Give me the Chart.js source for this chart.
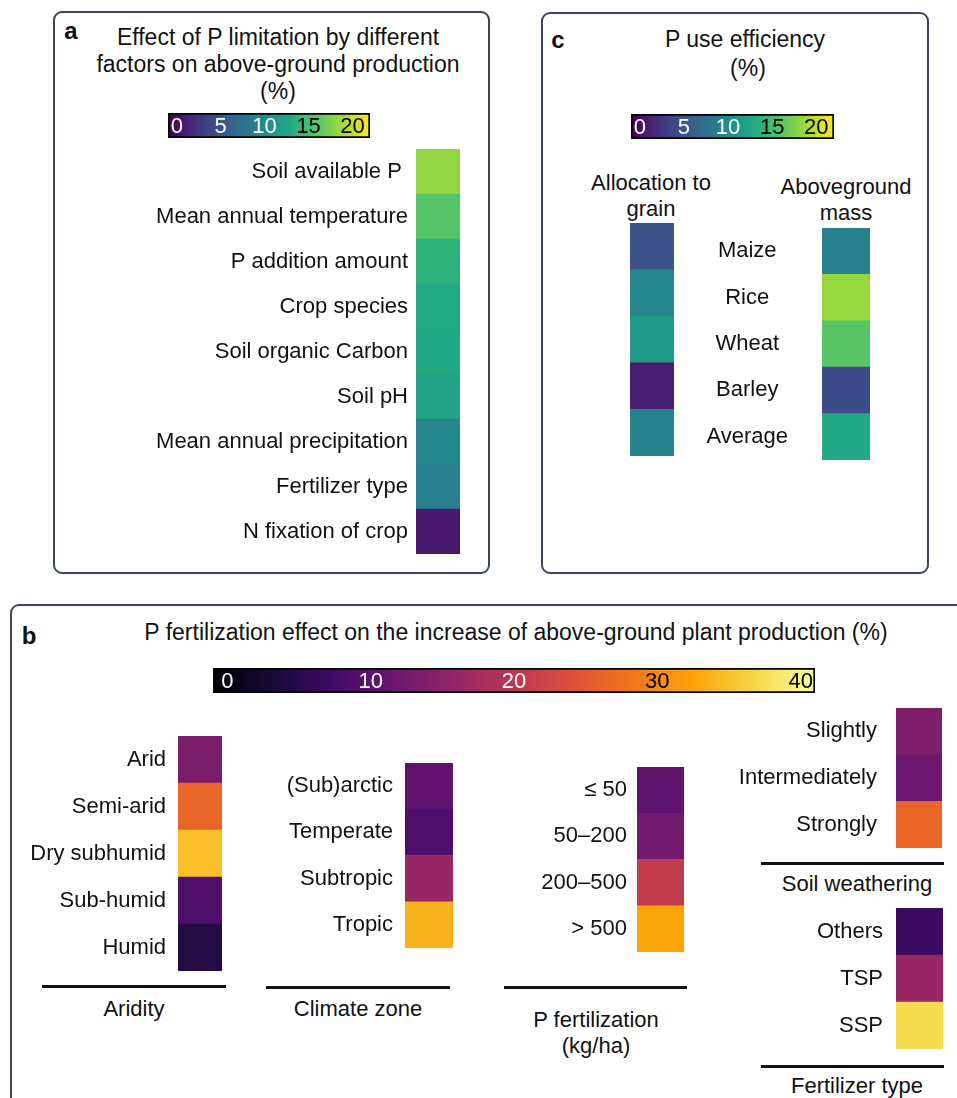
<!DOCTYPE html>
<html>
<head>
<meta charset="utf-8">
<script src="https://cdn.jsdelivr.net/npm/chart.js@4/dist/chart.umd.min.js"></script>
<style>
  html, body { margin: 0; padding: 0; background: #fff; }
  body { width: 957px; height: 1098px; position: relative; overflow: hidden;
         font-family: 'Liberation Sans', Arial, sans-serif; color: #111; }
  .panel { position: absolute; border: 2px solid #3b4759; border-radius: 9px; box-sizing: border-box; }
  .t { position: absolute; white-space: nowrap; transform: translate(-50%, -50%); line-height: 1; }
  .line { position: absolute; height: 3px; background: #111; }
  canvas { position: absolute; }
</style>
</head>
<body>
<div class="panel" style="left:53px;top:11px;width:437px;height:563px;"></div>
<div class="panel" style="left:541px;top:12px;width:388px;height:562px;"></div>
<div class="panel" style="left:10px;top:604px;width:980px;height:540px;"></div>

<canvas id="cbA"></canvas>
<canvas id="cbC"></canvas>
<canvas id="cbB"></canvas>
<canvas id="heatA"></canvas>
<canvas id="heatGrain"></canvas>
<canvas id="heatAbove"></canvas>
<canvas id="heatArid"></canvas>
<canvas id="heatClim"></canvas>
<canvas id="heatPfert"></canvas>
<canvas id="heatWeather"></canvas>
<canvas id="heatFtype"></canvas>

<script>
// ---------------- DATA ----------------
const aLabels = ['Soil available P ', 'Mean annual temperature', 'P addition amount', 'Crop species',
  'Soil organic Carbon', 'Soil pH', 'Mean annual precipitation', 'Fertilizer type', 'N fixation of crop'];
const aValues = [18.2, 15.8, 13.6, 13.0, 12.9, 12.3, 9.7, 8.8, 0.5];

const cCrops = ['Maize', 'Rice', 'Wheat', 'Barley', 'Average'];
const cGrain = [4.8, 9.4, 11.4, 0.85, 9.1];
const cAbove = [8.8, 18.4, 15.9, 4.2, 12.9];

const aridityLabels = ['Arid', 'Semi-arid', 'Dry subhumid', 'Sub-humid', 'Humid'];
const aridityValues = [13.2, 26.3, 34.7, 8.8, 4.3];
const climateLabels = ['(Sub)arctic', 'Temperate', 'Subtropic', 'Tropic'];
const climateValues = [10.4, 8.8, 16.2, 33.7];
const pfertLabels = ['\u2264 50', '50\u2013200', '200\u2013500', '> 500'];
const pfertValues = [10.3, 12.2, 20.8, 32.6];
const weatherLabels = ['Slightly', 'Intermediately', 'Strongly'];
const weatherValues = [13.6, 11.9, 26.5];
const ftypeLabels = ['Others', 'TSP', 'SSP'];
const ftypeValues = [6.6, 16.3, 37.2];

const viridisTicks = [0, 5, 10, 15, 20];
const infernoTicks = [0, 10, 20, 30, 40];
const viridisDomain = [-1, 22];
const infernoDomain = [-1, 41];

// ---------------- COLOUR MAPS ----------------
const VIRIDIS = ['#440154','#482475','#414487','#355f8d','#2a788e','#21918c','#22a884','#44bf70','#7ad151','#bddf26','#fde725'];
const INFERNO = ['#000004','#160b39','#420a68','#6a176e','#932667','#bc3754','#dd513a','#f37819','#fca50a','#f6d746','#fcffa4'];
function hex2rgb(h) { return [parseInt(h.slice(1,3),16), parseInt(h.slice(3,5),16), parseInt(h.slice(5,7),16)]; }
function cmapAt(anchors, t) {
  t = Math.max(0, Math.min(1, t));
  const n = anchors.length - 1, f = t * n, i = Math.min(n - 1, Math.floor(f)), u = f - i;
  const a = hex2rgb(anchors[i]), b = hex2rgb(anchors[i + 1]);
  return a.map((c, k) => Math.round(c + (b[k] - c) * u));
}
function colorFor(anchors, domain, v) {
  const c = cmapAt(anchors, (v - domain[0]) / (domain[1] - domain[0]));
  return `rgb(${c[0]},${c[1]},${c[2]})`;
}

const FONT = "'Liberation Sans', Arial, sans-serif";
const LABEL_SIZE = 22;
Chart.defaults.font.family = FONT;
Chart.defaults.color = '#111';

function place(id, left, top, w, h) {
  const c = document.getElementById(id);
  c.width = w; c.height = h;
  c.style.left = left + 'px'; c.style.top = top + 'px';
  c.style.width = w + 'px'; c.style.height = h + 'px';
  return c;
}

// heatmap column: one cell per category, colour from value
function heatChart(id, left, top, w, h, axisW, labels, values, anchors, domain, tickOpts) {
  const cv = place(id, left, top, w, h);
  return new Chart(cv, {
    type: 'bar',
    data: {
      labels: labels,
      datasets: [{
        data: labels.map(() => [0, 1]),
        backgroundColor: (ctx) => colorFor(anchors, domain, values[ctx.dataIndex]),
        borderWidth: 0,
        barPercentage: 1.0,
        categoryPercentage: 1.0
      }]
    },
    options: {
      indexAxis: 'y',
      responsive: false,
      maintainAspectRatio: false,
      animation: false,
      devicePixelRatio: 1,
      layout: { padding: 0 },
      plugins: { legend: { display: false }, tooltip: { enabled: false } },
      scales: {
        x: { display: false, min: 0, max: 1 },
        y: {
          display: axisW > 0,
          grid: { display: false, drawTicks: false },
          border: { display: false },
          ticks: Object.assign({ font: { size: LABEL_SIZE }, color: '#111', padding: 10 }, tickOpts || {}),
          afterFit: (s) => { s.width = axisW; s.paddingTop = 0; s.paddingBottom = 0; }
        }
      }
    }
  });
}

// colour bar with tick labels drawn inside
function colorBar(id, left, top, w, h, anchors, domain, ticks) {
  const cv = place(id, left, top, w, h);
  const tickPlugin = {
    id: 'inbarTicks',
    afterDatasetsDraw(chart) {
      const ctx = chart.ctx, xs = chart.scales.x, ca = chart.chartArea;
      ctx.save();
      ctx.font = '22px ' + FONT;
      ctx.textAlign = 'center';
      ctx.textBaseline = 'middle';
      ticks.forEach(t => {
        const c = cmapAt(anchors, (t - domain[0]) / (domain[1] - domain[0]));
        const lum = 0.299 * c[0] + 0.587 * c[1] + 0.114 * c[2];
        ctx.fillStyle = lum > 127 ? '#000' : '#fff';
        ctx.fillText(String(t), xs.getPixelForValue(t), (ca.top + ca.bottom) / 2 + 1);
      });
      ctx.restore();
    }
  };
  return new Chart(cv, {
    type: 'bar',
    data: {
      labels: [''],
      datasets: [{
        data: [[domain[0], domain[1]]],
        backgroundColor: (ctx) => {
          const ch = ctx.chart, ca = ch.chartArea;
          if (!ca) return '#888';
          const g = ch.ctx.createLinearGradient(ca.left, 0, ca.right, 0);
          anchors.forEach((a, i) => g.addColorStop(i / (anchors.length - 1), a));
          return g;
        },
        borderColor: '#000',
        borderWidth: 2,
        borderSkipped: false,
        barPercentage: 1.0,
        categoryPercentage: 1.0
      }]
    },
    options: {
      indexAxis: 'y',
      responsive: false,
      maintainAspectRatio: false,
      animation: false,
      devicePixelRatio: 1,
      layout: { padding: 0 },
      plugins: { legend: { display: false }, tooltip: { enabled: false } },
      scales: {
        x: { display: false, min: domain[0], max: domain[1] },
        y: { display: false }
      }
    },
    plugins: [tickPlugin]
  });
}

// ---------------- PANEL a ----------------
colorBar('cbA', 168, 113, 202, 25, VIRIDIS, viridisDomain, viridisTicks);
heatChart('heatA', 60, 149, 400, 405, 356, aLabels, aValues, VIRIDIS, viridisDomain, { padding: 8 });

// ---------------- PANEL c ----------------
colorBar('cbC', 631, 114, 203, 25, VIRIDIS, viridisDomain, viridisTicks);
heatChart('heatGrain', 630, 223, 44, 233, 0, cCrops, cGrain, VIRIDIS, viridisDomain);
heatChart('heatAbove', 690, 228, 180, 232, 132, cCrops, cAbove, VIRIDIS, viridisDomain,
  { padding: 34, crossAlign: 'center' });

// ---------------- PANEL b ----------------
colorBar('cbB', 213, 668, 602, 25, INFERNO, infernoDomain, infernoTicks);
heatChart('heatArid', 20, 736, 202, 235, 158, aridityLabels, aridityValues, INFERNO, infernoDomain, { padding: 12 });
heatChart('heatClim', 250, 763, 203, 185, 155, climateLabels, climateValues, INFERNO, infernoDomain, { padding: 12 });
heatChart('heatPfert', 500, 767, 184, 185, 137, pfertLabels, pfertValues, INFERNO, infernoDomain, { padding: 10 });
heatChart('heatWeather', 720, 708, 222, 140, 176, weatherLabels, weatherValues, INFERNO, infernoDomain, { padding: 19 });
heatChart('heatFtype', 760, 908, 183, 141, 136, ftypeLabels, ftypeValues, INFERNO, infernoDomain, { padding: 13 });

// ---------------- TEXT ----------------
function T(text, x, y, size, extra) {
  const d = document.createElement('div');
  d.className = 't';
  d.textContent = text;
  d.style.left = x + 'px'; d.style.top = y + 'px';
  d.style.fontSize = size + 'px';
  if (extra) Object.assign(d.style, extra);
  document.body.appendChild(d);
}
function L(x1, x2, y) {
  const d = document.createElement('div');
  d.className = 'line';
  d.style.left = x1 + 'px'; d.style.top = (y - 1) + 'px'; d.style.width = (x2 - x1) + 'px';
  document.body.appendChild(d);
}
const bold = { fontWeight: 'bold' };
T('a', 71, 31, 24, bold);
T('Effect of P limitation by different', 278, 37, 23);
T('factors on above-ground production', 278, 64, 23);
T('(%)', 278, 91, 23);

T('c', 558, 40, 24, bold);
T('P use efficiency', 745, 39, 23);
T('(%)', 748, 68, 23);
T('Allocation to', 651, 183, 22);
T('grain', 651, 209, 22);
T('Aboveground', 846, 187, 22);
T('mass', 846, 213, 22);

T('b', 29, 636, 24, bold);
T('P fertilization effect on the increase of above-ground plant production (%)', 516, 632, 23);

L(42, 226, 986);  T('Aridity', 134, 1009, 22);
L(266, 450, 987); T('Climate zone', 358, 1009, 22);
L(504, 687, 987); T('P fertilization', 596, 1020, 22); T('(kg/ha)', 596, 1046, 22);
L(761, 944, 863); T('Soil weathering', 857, 884, 22);
L(761, 944, 1066); T('Fertilizer type', 857, 1086, 22);
</script>
</body>
</html>
